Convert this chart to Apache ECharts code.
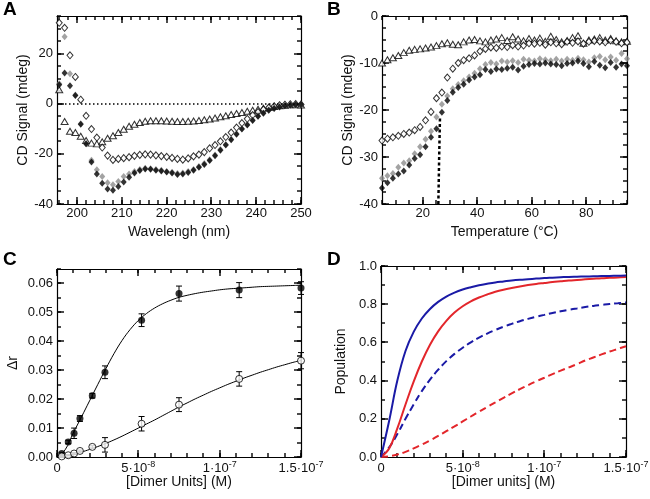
<!DOCTYPE html>
<html>
<head>
<meta charset="utf-8">
<script src="https://cdn.jsdelivr.net/npm/echarts@6/dist/echarts.min.js"></script>
<style>
  html, body { margin: 0; padding: 0; background: #fff; }
  #chart { width: 650px; height: 499px; }
</style>
</head>
<body>
<div id="chart"></div>
<script>
// ---- panel A: CD spectra ----
const aWavelength = [196, 197.2, 198.4, 199.6, 200.8, 202, 203.2, 204.4, 205.6, 206.8, 208, 209.2, 210.4, 211.6, 212.8, 214, 215.2, 216.4, 217.6, 218.8, 220, 221.2, 222.4, 223.6, 224.8, 226, 227.2, 228.4, 229.6, 230.8, 232, 233.2, 234.4, 235.6, 236.8, 238, 239.2, 240.4, 241.6, 242.8, 244, 245.2, 246.4, 247.6, 248.8, 250]
const aOpenDiamond = [32.3, 30.3, 19.3, 10.7, 1.6, -4.8, -10.1, -13.5, -17.5, -20.7, -22.4, -22, -21.7, -21.3, -20.8, -20.4, -20.2, -20.3, -20.6, -20.9, -21.2, -21.6, -22, -22.3, -21.8, -21, -20.3, -19.3, -17.8, -16.5, -15, -13.3, -11.5, -9.5, -7.7, -6, -4.5, -3.3, -2.3, -1.5, -1, -0.6, -0.4, -0.2, -0.1, -0.3]
const aGrayDiamond = [8, 26.7, 12, 3.5, -8, -16, -22.5, -26.3, -29, -31.5, -32.3, -31, -29, -28, -27, -26.2, -25.7, -25.9, -26.2, -26.5, -27, -27.3, -27.8, -27.6, -27, -26.2, -25, -23.8, -22.3, -20.5, -18.3, -16.3, -14.2, -12, -10, -8.3, -6.5, -5, -3.7, -2.6, -1.8, -1.2, -0.8, -0.5, -0.3, -0.2]
const aBlackDiamond = [7.6, 12.3, 7.2, 3.3, -8.2, -16, -23.2, -28, -31.7, -34, -34.5, -33, -31.2, -29.3, -27.6, -26.6, -26, -26.1, -26.5, -26.8, -27.2, -27.6, -28.2, -28, -27.4, -26.5, -25.3, -24.2, -22.6, -20.8, -18.6, -16.5, -14.4, -12.2, -10.1, -8.5, -6.7, -5, -3.8, -2.6, -1.9, -1.3, -0.8, -0.5, -0.3, -0.2]
const aOpenTriangle = [5.6, -7.1, -11, -11.5, -13, -14.7, -15.7, -16, -15.2, -13.8, -12.8, -11.5, -10.2, -9, -8.2, -7.5, -7, -6.8, -6.8, -6.8, -6.9, -7, -7.1, -7.1, -7, -6.9, -6.7, -6.4, -6.1, -5.7, -5.2, -4.8, -4.3, -3.9, -3.5, -3, -2.6, -2.2, -1.8, -1.5, -1.1, -0.8, -0.6, -0.4, -0.4, -0.5]
const aBaseline = 0

// ---- panel B: thermal melts ----
const bTemperature = [5, 7, 9, 11, 13, 15, 17, 19, 21, 23, 25, 27, 29, 31, 33, 35, 37, 39, 41, 43, 45, 47, 49, 51, 53, 55, 57, 59, 61, 63, 65, 67, 69, 71, 73, 75, 77, 79, 81, 83, 85, 87, 89, 91, 93, 95]
const bOpenTriangle = [-10, -9.3, -8.9, -8.4, -7.8, -7.3, -7.1, -7, -6.8, -6.6, -6.3, -5.9, -5.7, -6, -6.1, -5.5, -5.1, -5, -5.3, -5.5, -5.1, -4.9, -4.6, -5.2, -4.4, -4.9, -5.3, -4.8, -5.1, -4.7, -5.4, -4.3, -5, -5.5, -5.2, -4.6, -4.2, -5.8, -5.1, -4.9, -4.6, -5.1, -4.8, -5.3, -5.5, -5.4]
const bOpenDiamond = [-26.5, -26.1, -25.8, -25.5, -25.1, -24.8, -24.3, -23.6, -22.2, -20.4, -17.5, -16.3, -13.1, -11.2, -10, -9.4, -9, -8.4, -7.5, -7, -6.7, -6.8, -6.5, -6.6, -6.2, -6.5, -6.3, -5.8, -5.9, -5.7, -6.1, -5.6, -5.8, -6, -5.5, -5.7, -5.4, -5.9, -5.5, -5.3, -5.4, -5.6, -5.2, -5.5, -5.8, -5.6]
const bGrayDiamond = [-34.5, -34, -33.5, -32.2, -31.3, -30.8, -29.3, -27.8, -26.2, -24.5, -21.5, -18.8, -17, -15.5, -14.6, -13.8, -13, -12.2, -11.2, -10.3, -9.9, -10.2, -9.6, -9.8, -9.5, -9.9, -9.2, -9.4, -9.6, -9.1, -9.3, -9.5, -9.2, -9.6, -9.2, -9.4, -9, -9.3, -9.8, -8.9, -8.6, -9.3, -8.7, -9.4, -8, -9.1]
const bBlackDiamond = [-36.6, -35.5, -34.5, -33.6, -33, -31.7, -30.3, -29.5, -27.8, -25.8, -24, -20.5, -18, -16.2, -15.2, -14.5, -13.6, -13, -12.5, -11.4, -11.8, -11.3, -11.4, -11.1, -10.9, -11.5, -10.7, -10.3, -10.1, -10.2, -10, -10.2, -10.3, -10.6, -10.1, -10, -9.6, -10.1, -10.8, -9.7, -10.5, -11, -9.9, -10.9, -10.2, -10.6]
const bFitTemp = [25.7, 26.0, 26.3]
const bFitSignal = [-40, -30, -21.5]

// ---- panel C: anisotropy titration ----
const cConc = [2.9e-9, 6.9e-9, 1.05e-8, 1.41e-8, 2.17e-8, 2.95e-8, 5.2e-8, 7.5e-8, 1.12e-7, 1.5e-7]
const cFilled = [0.0012, 0.0052, 0.0082, 0.0133, 0.0212, 0.0293, 0.0473, 0.0565, 0.0577, 0.0584]
const cFilledErr = [0.0004, 0.0006, 0.0018, 0.001, 0.0008, 0.0022, 0.0022, 0.0026, 0.0026, 0.0022]
const cOpen = [0.0002, 0.0006, 0.0012, 0.0021, 0.0035, 0.0042, 0.0115, 0.0181, 0.027, 0.0333]
const cOpenErr = [0.0002, 0.0002, 0.0003, 0.0003, 0.0004, 0.0025, 0.0025, 0.0024, 0.0025, 0.0028]

// concentrations at which the fitted / simulated curves were read (C and D)
const curveConc = [0, 5e-9, 1e-8, 1.5e-8, 2e-8, 2.5e-8, 3e-8, 3.5e-8, 4e-8, 4.5e-8, 5e-8, 5.5e-8, 6e-8, 6.5e-8, 7e-8, 7.5e-8, 8e-8, 8.5e-8, 9e-8, 9.5e-8, 1e-7, 1.05e-7, 1.1e-7, 1.15e-7, 1.2e-7, 1.25e-7, 1.3e-7, 1.35e-7, 1.4e-7, 1.45e-7, 1.5e-7]
const cFitFilled = [0, 0.0025, 0.0083, 0.0138, 0.0194, 0.025, 0.0305, 0.0357, 0.0403, 0.0441, 0.0472, 0.0496, 0.0515, 0.053, 0.0542, 0.0552, 0.0559, 0.0565, 0.057, 0.0574, 0.0578, 0.0581, 0.0583, 0.0585, 0.0587, 0.0589, 0.059, 0.0591, 0.0592, 0.0593, 0.0594]
const cFitOpen = [0, 0.0003, 0.0009, 0.0017, 0.0026, 0.0036, 0.0047, 0.0059, 0.0072, 0.0086, 0.01, 0.0114, 0.0128, 0.0143, 0.0158, 0.0173, 0.0187, 0.0201, 0.0214, 0.0227, 0.0239, 0.0251, 0.0262, 0.0273, 0.0283, 0.0293, 0.0302, 0.0311, 0.0319, 0.0327, 0.0334]

// ---- panel D: populations ----
const dBlueSolid = [0, 0.19, 0.4, 0.555, 0.655, 0.725, 0.775, 0.812, 0.84, 0.861, 0.877, 0.889, 0.899, 0.907, 0.914, 0.919, 0.924, 0.928, 0.931, 0.934, 0.937, 0.939, 0.941, 0.943, 0.944, 0.945, 0.946, 0.947, 0.948, 0.949, 0.95]
const dRedSolid = [0, 0.045, 0.15, 0.275, 0.395, 0.5, 0.588, 0.658, 0.713, 0.756, 0.789, 0.815, 0.835, 0.851, 0.865, 0.876, 0.885, 0.893, 0.9, 0.906, 0.911, 0.916, 0.92, 0.924, 0.927, 0.93, 0.933, 0.936, 0.938, 0.94, 0.942]
const dBlueDashed = [0, 0.05, 0.12, 0.2, 0.275, 0.345, 0.405, 0.457, 0.502, 0.54, 0.572, 0.6, 0.625, 0.646, 0.665, 0.682, 0.697, 0.711, 0.723, 0.734, 0.744, 0.754, 0.763, 0.771, 0.778, 0.785, 0.791, 0.796, 0.801, 0.805, 0.809]
const dRedDashed = [0, 0.004, 0.013, 0.027, 0.045, 0.065, 0.087, 0.11, 0.135, 0.16, 0.186, 0.212, 0.237, 0.262, 0.286, 0.31, 0.333, 0.355, 0.376, 0.396, 0.415, 0.434, 0.452, 0.469, 0.486, 0.505, 0.521, 0.537, 0.552, 0.566, 0.58]

// tick labels
const aXTicks = [200, 210, 220, 230, 240, 250]
const aYTicks = [-40, -20, 0, 20]
const bXTicks = [20, 40, 60, 80]
const bYTicks = [-40, -30, -20, -10, 0]
const cYTicks = [0, 0.01, 0.02, 0.03, 0.04, 0.05, 0.06]
const dYTicks = [0, 0.2, 0.4, 0.6, 0.8, 1.0]
const concTicks = [0, 5e-8, 1e-7, 1.5e-7]
const concTickText = [['0', ''], ['5·10', '-8'], ['1·10', '-7'], ['1.5·10', '-7']]

const panelLetters = ['A', 'B', 'C', 'D']

const FONT = '"Liberation Sans", Arial, sans-serif'
const INK = '#111'

function pairs(xs, ys) {
  return xs.map((x, i) => [x, ys[i]])
}

function errRows(xs, ys, es) {
  return xs.map((x, i) => [x, ys[i] - es[i], ys[i] + es[i]])
}

// evenly spaced tick positions (axis decoration only)
function tickRange(start, end, step) {
  const out = []
  const n = Math.floor((end - start) / step + 1e-6)
  for (let i = 0; i <= n; i++) out.push(+(start + i * step).toPrecision(10))
  return out
}

function concLabel(v) {
  const i = concTicks.findIndex(t => Math.abs(t - v) < 1e-12)
  if (i < 0) return ''
  const [m, e] = concTickText[i]
  return e ? `{m|${m}}{e|${e}}` : `{m|${m}}`
}

const grids = []
const xAxes = []
const yAxes = []
const tickSeries = []
const frameLine = { color: '#000', width: 1.2 }

// inward ticks on both opposite sides of the frame, placed through the
// panel's own axes; drawn as one custom item per tick value
function addTicks(p, dim, values, len, other) {
  tickSeries.push({
    type: 'custom', xAxisIndex: p.x, yAxisIndex: p.y, silent: true,
    data: values.map(v => (dim === 'x' ? [v, other] : [other, v])),
    encode: { x: 0, y: 1 },
    renderItem(params, api) {
      const cs = params.coordSys
      const style = { stroke: '#000', lineWidth: 1.4 }
      const pt = api.coord([api.value(0), api.value(1)])
      let segs
      if (dim === 'x') {
        const x = Math.round(pt[0])
        const bottom = cs.y + cs.height
        segs = [[x, bottom, x, bottom - len], [x, cs.y, x, cs.y + len]]
      } else {
        const y = Math.round(pt[1])
        const right = cs.x + cs.width
        segs = [[cs.x, y, cs.x + len, y], [right, y, right - len, y]]
      }
      return {
        type: 'group',
        children: segs.map(s => ({
          type: 'line', shape: { x1: s[0], y1: s[1], x2: s[2], y2: s[3] }, style,
        })),
      }
    },
  })
}

// boxed frame with labels on bottom/left
function addPanel(frame, x, y) {
  const gi = grids.length
  const p = { x: xAxes.length, y: yAxes.length }
  grids.push({ ...frame, containLabel: false, outerBoundsMode: 'none' })
  const line = { show: true, onZero: false, lineStyle: frameLine }
  const nameStyle = { fontSize: 14, color: INK, fontFamily: FONT }
  const label = (a, margin) => ({
    show: true, customValues: a.labels, formatter: a.fmt, margin,
    color: INK, fontSize: 13, fontFamily: FONT, rich: a.rich,
  })
  const base = (a, pos) => ({
    type: 'value', gridIndex: gi, position: pos, min: a.min, max: a.max,
    axisLine: line, axisTick: { show: false }, splitLine: { show: false },
    axisLabel: { show: false },
  })
  xAxes.push(
    { ...base(x, 'bottom'), axisLabel: label(x, 3), name: x.name, nameLocation: 'middle', nameGap: x.gap, nameTextStyle: nameStyle },
    base(x, 'top'),
  )
  yAxes.push(
    { ...base(y, 'left'), axisLabel: label(y, 4), name: y.name, nameLocation: 'middle', nameGap: y.gap, nameTextStyle: nameStyle },
    base(y, 'right'),
  )
  addTicks(p, 'x', tickRange(x.minorStart, x.max, x.minor), 4, y.min)
  addTicks(p, 'x', tickRange(x.majorStart, x.max, x.major), 7, y.min)
  addTicks(p, 'y', tickRange(y.minorStart, y.max, y.minor), 4, x.min)
  addTicks(p, 'y', tickRange(y.majorStart, y.max, y.major), 7, x.min)
  return p
}

const concRich = {
  m: { fontSize: 13, lineHeight: 16, fontFamily: FONT, color: INK },
  e: { fontSize: 9, lineHeight: 9, verticalAlign: 'top', fontFamily: FONT, color: INK },
}
const concAxis = (name) => ({
  min: 0, max: 1.5e-7, labels: concTicks, fmt: concLabel, rich: concRich,
  majorStart: 0, major: 5e-8, minorStart: 0, minor: 1e-8, name, gap: 17,
})

const pA = addPanel(
  { left: 57, top: 16, width: 244, height: 188 },
  { min: 195.5, max: 250, labels: aXTicks, fmt: v => String(v), majorStart: 200, major: 10, minorStart: 196, minor: 2, name: 'Wavelengh (nm)', gap: 21 },
  { min: -40, max: 35, labels: aYTicks, fmt: v => String(v), majorStart: -40, major: 20, minorStart: -40, minor: 5, name: 'CD Signal (mdeg)', gap: 26 },
)
const pB = addPanel(
  { left: 382, top: 16, width: 245, height: 188 },
  { min: 5, max: 95, labels: bXTicks, fmt: v => String(v), majorStart: 20, major: 20, minorStart: 5, minor: 5, name: 'Temperature (°C)', gap: 21 },
  { min: -40, max: 0, labels: bYTicks, fmt: v => String(v), majorStart: -40, major: 10, minorStart: -40, minor: 2.5, name: 'CD Signal (mdeg)', gap: 27 },
)
const pC = addPanel(
  { left: 57, top: 269, width: 244, height: 188 },
  concAxis('[Dimer Units] (M)'),
  { min: 0, max: 0.065, labels: cYTicks, fmt: v => v.toFixed(2), majorStart: 0, major: 0.01, minorStart: 0, minor: 0.005, name: 'Δr', gap: 37 },
)
const pD = addPanel(
  { left: 381, top: 266, width: 245, height: 191 },
  concAxis('[Dimer units] (M)'),
  { min: 0, max: 1, labels: dYTicks, fmt: v => v.toFixed(1), majorStart: 0, major: 0.2, minorStart: 0, minor: 0.1, name: 'Population', gap: 33 },
)

const openStyle = { color: '#fff', borderColor: '#000', borderWidth: 1 }
const GRAY = '#8c8c8c'
const BLUE = '#1a1aa6'
const RED = '#e3262b'

function scatter(p, data, symbol, size, itemStyle, extra) {
  return {
    type: 'scatter', xAxisIndex: p.x, yAxisIndex: p.y, data, symbol,
    symbolSize: size, itemStyle, silent: true, z: 3, ...extra,
  }
}

function curve(p, data, color, type, width, smooth) {
  return {
    type: 'line', xAxisIndex: p.x, yAxisIndex: p.y, data, showSymbol: false,
    symbol: 'none', smooth, silent: true,
    lineStyle: { color, width, type },
  }
}

function errorBars(p, rows) {
  return {
    type: 'custom', xAxisIndex: p.x, yAxisIndex: p.y, data: rows, silent: true,
    encode: { x: 0, y: [1, 2] },
    renderItem(params, api) {
      const x = api.value(0)
      const lo = api.coord([x, api.value(1)])
      const hi = api.coord([x, api.value(2)])
      const cap = 3
      const style = { stroke: '#000', lineWidth: 1 }
      return {
        type: 'group',
        children: [
          { type: 'line', shape: { x1: lo[0], y1: lo[1], x2: hi[0], y2: hi[1] }, style },
          { type: 'line', shape: { x1: hi[0] - cap, y1: hi[1], x2: hi[0] + cap, y2: hi[1] }, style },
          { type: 'line', shape: { x1: lo[0] - cap, y1: lo[1], x2: lo[0] + cap, y2: lo[1] }, style },
        ],
      }
    },
  }
}

const letterPos = [[3, 0], [327, 0], [3, 250], [327, 250]]

const option = {
  animation: false,
  backgroundColor: '#fff',
  textStyle: { fontFamily: FONT },
  grid: grids,
  xAxis: xAxes,
  yAxis: yAxes,
  graphic: panelLetters.map((t, i) => ({
    type: 'text', left: letterPos[i][0], top: letterPos[i][1], silent: true,
    style: { text: t, fill: '#000', font: `bold 19px ${FONT}` },
  })),
  series: [
    // A
    scatter(pA, pairs(aWavelength, aOpenTriangle), 'triangle', [7, 6], openStyle, {
      markLine: {
        silent: true, symbol: ['none', 'none'], label: { show: false },
        lineStyle: { color: '#000', width: 1.5, type: [1.5, 2.5] },
        data: [{ yAxis: aBaseline }],
      },
    }),
    scatter(pA, pairs(aWavelength, aOpenDiamond), 'diamond', [6, 7], openStyle),
    scatter(pA, pairs(aWavelength, aGrayDiamond), 'diamond', [6, 7], { color: GRAY }),
    scatter(pA, pairs(aWavelength, aBlackDiamond), 'diamond', [6, 7], { color: '#000' }),
    // B
    scatter(pB, pairs(bTemperature, bOpenTriangle), 'triangle', [7, 6], openStyle),
    scatter(pB, pairs(bTemperature, bOpenDiamond), 'diamond', [6, 7], openStyle),
    scatter(pB, pairs(bTemperature, bGrayDiamond), 'diamond', [6, 7], { color: GRAY }),
    scatter(pB, pairs(bTemperature, bBlackDiamond), 'diamond', [6, 7], { color: '#000' }),
    curve(pB, pairs(bFitTemp, bFitSignal), '#000', [3, 2.5], 2.5, false),
    // C
    errorBars(pC, errRows(cConc, cFilled, cFilledErr)),
    errorBars(pC, errRows(cConc, cOpen, cOpenErr)),
    curve(pC, pairs(curveConc, cFitFilled), '#000', 'solid', 1, 0.4),
    curve(pC, pairs(curveConc, cFitOpen), '#000', 'solid', 1, 0.4),
    scatter(pC, pairs(cConc, cFilled), 'circle', 7, { color: '#000' }),
    scatter(pC, pairs(cConc, cOpen), 'circle', 7, openStyle),
    // D
    curve(pD, pairs(curveConc, dRedDashed), RED, [7, 4], 2, 0.4),
    curve(pD, pairs(curveConc, dBlueDashed), BLUE, [7, 4], 2, 0.4),
    curve(pD, pairs(curveConc, dRedSolid), RED, 'solid', 2, 0.4),
    curve(pD, pairs(curveConc, dBlueSolid), BLUE, 'solid', 2, 0.4),
    // frame ticks last, over everything
    ...tickSeries,
  ],
}

const chart = echarts.init(document.getElementById('chart'), null, { renderer: 'canvas' })
chart.setOption(option)
</script>
</body>
</html>
